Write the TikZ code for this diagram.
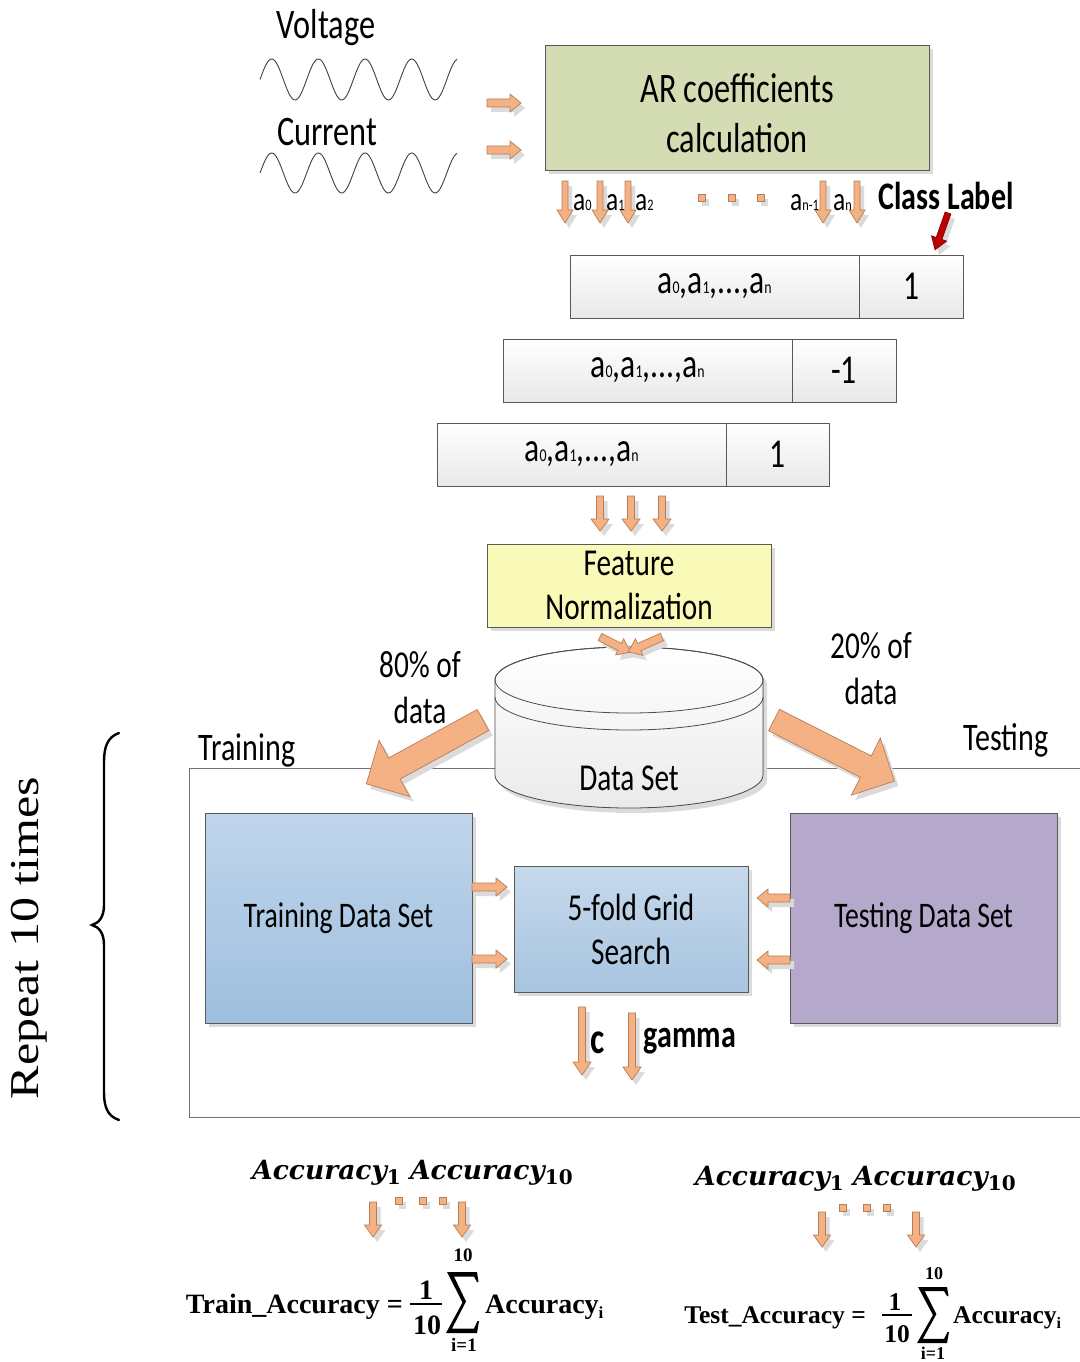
\documentclass[tikz,border=0pt]{standalone}
\usepackage{fontspec}
\setmainfont{Carlito}[FakeStretch=0.77]
\newfontfamily\serifbf{Liberation Serif}
\newfontfamily\repfont[FakeStretch=1.22]{Liberation Serif}
\newfontfamily\accfont{DejaVu Serif}
\usetikzlibrary{shadows}
\definecolor{arrfillc}{HTML}{F4B183}
\definecolor{arrdrawc}{RGB}{185,125,85}
\definecolor{arfill}{HTML}{D3DCB2}
\definecolor{fnfill}{HTML}{FAFAB8}
\definecolor{trtop}{HTML}{C0D5EB}
\definecolor{trbot}{HTML}{9EBFDF}
\definecolor{grtop}{HTML}{C6D9EC}
\definecolor{grbot}{HTML}{A7C4E0}
\definecolor{tsfill}{HTML}{B4A8CB}
\definecolor{boxline}{HTML}{595959}
\definecolor{redarr}{HTML}{C00000}
\definecolor{redline}{HTML}{7F0000}
\newcommand\sbs[1]{{\fontsize{16}{16}\selectfont #1}}
\newcommand\csbs[1]{{\fontsize{18}{18}\selectfont #1}}
\newcommand\barrow[8][arrstyle]{%
  \begin{scope}[shift={(#2+4,#3+5)},rotate=#4]
    \fill[black!14] (0,-#6) -- ({#5-#8},-#6) -- ({#5-#8},-#7) -- (#5,0) -- ({#5-#8},#7) -- ({#5-#8},#6) -- (0,#6) -- cycle;
  \end{scope}
  \begin{scope}[shift={(#2,#3)},rotate=#4]
    \filldraw[#1] (0,-#6) -- ({#5-#8},-#6) -- ({#5-#8},-#7) -- (#5,0) -- ({#5-#8},#7) -- ({#5-#8},#6) -- (0,#6) -- cycle;
  \end{scope}}
\newcommand\sqdot[2]{%
  \fill[black!14] (#1-3.5+3,#2-3.5+4) rectangle +(7,7);
  \filldraw[arrstyle] (#1-3.5,#2-3.5) rectangle +(7,7);}
\newcommand\sigmashape[4]{%
  \begin{scope}[shift={(#1,#2)},xscale=#3/31,yscale=#4/61]
    \fill (0,0) -- (30,0) -- (31.5,10) -- (30,10) -- (27,4.5) -- (7,4.5) -- (19,29.5) -- (5,56.5) -- (27,56.5) -- (30.5,49) -- (32,49) -- (30,61) -- (-1,61) -- (15.5,30.5) -- cycle;
  \end{scope}}
\begin{document}
\begin{tikzpicture}[x=1pt,y=-1pt,
  arrstyle/.style={fill=arrfillc,draw=arrdrawc,line width=0.7pt},
  redstyle/.style={fill=redarr,draw=redline,line width=0.7pt},
  wave/.style={draw=black!75,line width=0.9pt},
  shad/.style={drop shadow={shadow xshift=4pt,shadow yshift=-4pt,fill=black!14,opacity=1}},
  box/.style={draw=boxline,line width=0.9pt,inner sep=0pt},
  cell/.style={draw=boxline,line width=0.8pt,top color=white,bottom color=black!9,minimum height=63pt,inner sep=0pt},
  txt/.style={font=\fontsize{38}{44}\selectfont,inner sep=0pt,align=center},
  celltxt/.style={font=\fontsize{41}{44}\selectfont,inner sep=0pt},
  big/.style={font=\fontsize{42}{50}\selectfont,inner sep=0pt,align=center},
  lbl/.style={font=\fontsize{33}{34}\selectfont,inner sep=0pt,anchor=base west},
  bold/.style={font=\fontsize{39}{44}\selectfont\bfseries,inner sep=0pt},
  frm/.style={font=\serifbf\bfseries\fontsize{28}{30}\selectfont,inner sep=0pt},
  frmr/.style={font=\serifbf\bfseries\fontsize{25.5}{30}\selectfont,inner sep=0pt},
  lim/.style={font=\serifbf\bfseries\fontsize{19}{20}\selectfont,inner sep=0pt},
  limr/.style={font=\serifbf\bfseries\fontsize{18}{20}\selectfont,inner sep=0pt},
  acc/.style={font=\accfont\bfseries\itshape\fontsize{26.5}{30}\selectfont,inner sep=0pt,anchor=base west}]
\useasboundingbox (0,0) rectangle (1079,1362);

% --- signals
\node[big] (volt) at (326,28) {Voltage};
\node[big] (curr) at (327,132) {Current};
\draw[wave] plot[domain=260:457,samples=160,smooth] (\x,{79.5-20.5*sin(7.7088*(\x-260))});
\draw[wave] plot[domain=260:457,samples=160,smooth] (\x,{173-20*sin(7.7088*(\x-260))});
\barrow{487}{103}{0}{34}{4}{9}{11}
\barrow{487}{150}{0}{34}{4}{9}{11}

% --- AR box
\node[box,shad,fill=arfill,minimum width=384pt,minimum height=125pt] (ar) at (737,107.5) {};
\node[big] (artext) at (737,113) {AR coefficients\\calculation};

% --- coefficient arrows
\foreach \xx in {565,600,628,823,857}{\barrow{\xx}{181}{-90}{42}{3}{8}{13}}
\node[lbl] (a0) at (573,210) {a\sbs{0}};
\node[lbl] (a1) at (606,210) {a\sbs{1}};
\node[lbl] (a2) at (635,210) {a\sbs{2}};
\node[lbl] (an1) at (790,210) {a\sbs{n-1}};
\node[lbl] (an) at (833,210) {a\sbs{n}};
\sqdot{702}{198}\sqdot{732}{198}\sqdot{761}{198}
\node[bold] (cl) at (946,196) {Class Label};
\barrow[redstyle]{948}{213}{-109.4}{39}{3}{8}{12}

% --- feature rows
\node[cell,minimum width=289pt] (r1l) at (714.5,286.5) {};
\node[cell,minimum width=104pt] (r1r) at (911,286.5) {};
\node[cell,minimum width=289pt] (r2l) at (647.5,370.5) {};
\node[cell,minimum width=104pt] (r2r) at (844,370.5) {};
\node[cell,minimum width=289pt] (r3l) at (581.5,454.5) {};
\node[cell,minimum width=103pt] (r3r) at (777.5,454.5) {};
\node[celltxt] at (r1l) {a\csbs{0},a\csbs{1},...,a\csbs{n}};
\node[celltxt] at (r1r) {1};
\node[celltxt] at (r2l) {a\csbs{0},a\csbs{1},...,a\csbs{n}};
\node[celltxt] at (r2r) {-1};
\node[celltxt] at (r3l) {a\csbs{0},a\csbs{1},...,a\csbs{n}};
\node[celltxt] at (r3r) {1};

\foreach \xx in {600,631,662}{\barrow{\xx}{496}{-90}{35}{3.5}{9}{12}}

% --- feature normalization
\node[box,shad,fill=fnfill,minimum width=284pt,minimum height=83pt,txt] (fn) at (629,585.5) {Feature\\Normalization};

% --- outer rectangle
\draw[black!55,line width=0.9pt] (1090,768) -- (189,768) -- (189,1117) -- (1090,1117);

% --- cylinder
\fill[black!14] (499,685) -- (499,780) -- plot[domain=180:360,samples=60] ({633+134*cos(\x)},{780-33*sin(\x)}) -- (767,685) -- plot[domain=0:180,samples=60] ({633+134*cos(\x)},{685-33*sin(\x)}) -- cycle;
\filldraw[draw=black!70,line width=0.8pt,top color=white,bottom color=black!8] (495,680) -- (495,775) -- plot[domain=180:360,samples=60] ({629+134*cos(\x)},{775-33*sin(\x)}) -- (763,680) -- plot[domain=0:180,samples=60] ({629+134*cos(\x)},{680-33*sin(\x)}) -- cycle;
\draw[black!70,line width=0.8pt] (629,680) ellipse [x radius=134,y radius=33];
\draw[black!70,line width=0.8pt] plot[domain=180:360,samples=60] ({629+134*cos(\x)},{697-33*sin(\x)});
\node[txt] (ds) at (629,778) {Data Set};

\barrow{600}{637}{-26.6}{34}{4}{9}{12}
\barrow{662}{637}{-156.2}{37}{4}{9}{12}

% --- split arrows and labels
\barrow{483}{720}{-151.3}{133}{12}{32}{32}
\barrow{774}{720}{-26.9}{135}{12}{32}{32}
\node[txt,font=\fontsize{38}{46}\selectfont] (p80) at (420,688) {80\% of\\data};
\node[txt,font=\fontsize{38}{46}\selectfont] (p20) at (871,668.5) {20\% of\\data};
\node[txt,font=\fontsize{39}{44}\selectfont] (trl) at (247,750) {Training};
\node[txt,font=\fontsize{39}{44}\selectfont] (tsl) at (1006,740) {Testing};

% --- inner boxes
\node[box,shad,top color=trtop,bottom color=trbot,minimum width=267pt,minimum height=210pt,txt,font=\fontsize{36}{40}\selectfont] (tr) at (338.5,918) {Training Data Set};
\node[box,shad,top color=grtop,bottom color=grbot,minimum width=234pt,minimum height=126pt,txt] (gr) at (631,929) {5-fold Grid\\Search};
\node[box,shad,fill=tsfill,minimum width=267pt,minimum height=210pt,txt,font=\fontsize{36}{40}\selectfont] (ts) at (923.5,918) {Testing Data Set};
\barrow{472}{887}{0}{35}{4}{9}{11}
\barrow{472}{959}{0}{35}{4}{9}{11}
\barrow{790}{898}{180}{33}{4}{9}{11}
\barrow{790}{960}{180}{33}{4}{9}{11}
\barrow{582}{1007}{-90}{68}{3.5}{9}{13}
\barrow{632}{1013}{-90}{67}{3.5}{9}{13}
\node[bold,font=\fontsize{44}{46}\selectfont\bfseries] (cc) at (598,1043) {c};
\node[bold] (gm) at (690,1041) {gamma};

% --- repeat brace
\draw[line width=2.4pt,line cap=round] (119,733) .. controls (107,737) and (104,748) .. (104,762) -- (104,905) .. controls (104,917) and (99,923) .. (92,925) .. controls (99,927) and (104,933) .. (104,945) -- (104,1092) .. controls (104,1106) and (107,1116) .. (119,1120);
\node[rotate=90,font=\repfont\fontsize{41}{50}\selectfont,inner sep=0pt] (rep) at (29,938) {Repeat 10 times};

% --- bottom left formula
\node[acc] (accL) at (252,1179) {Accuracy{\upshape\fontsize{20}{20}\selectfont\raisebox{-5pt}{1}} Accuracy{\upshape\fontsize{20}{20}\selectfont\raisebox{-5pt}{10}}};
\barrow{373}{1202}{-90}{35}{3.5}{8.5}{12}
\barrow{462}{1202}{-90}{35}{3.5}{8.5}{12}
\sqdot{399}{1201}\sqdot{423}{1201}\sqdot{443}{1201}
\node[frm,anchor=base east] (trf) at (403,1313) {Train\_Accuracy =};
\node[frm,anchor=base] (n1L) at (426,1299) {1};
\draw[line width=1.6pt] (410,1304) -- (442,1304);
\node[frm,anchor=base] (d1L) at (427,1334) {10};
\sigmashape{447}{1272}{31}{61}
\node[lim] (upL) at (463,1255) {10};
\node[lim] (loL) at (464,1345) {i=1};
\node[frm,anchor=base west] (aiL) at (485,1313) {Accuracy{\fontsize{17}{17}\selectfont\raisebox{-5pt}{i}}};

% --- bottom right formula
\node[acc] (accR) at (695,1185) {Accuracy{\upshape\fontsize{20}{20}\selectfont\raisebox{-5pt}{1}} Accuracy{\upshape\fontsize{20}{20}\selectfont\raisebox{-5pt}{10}}};
\barrow{822}{1212}{-90}{35}{3.5}{8.5}{12}
\barrow{916}{1212}{-90}{35}{3.5}{8.5}{12}
\sqdot{843}{1208}\sqdot{867}{1208}\sqdot{887}{1208}
\node[frmr,anchor=base east] (tsf) at (866,1323) {Test\_Accuracy =};
\node[frmr,anchor=base] (n1R) at (895,1310) {1};
\draw[line width=1.5pt] (882,1315) -- (912,1315);
\node[frmr,anchor=base] (d1R) at (897,1342) {10};
\sigmashape{918}{1287}{30}{56}
\node[limr] (upR) at (934,1274) {10};
\node[limr] (loR) at (933,1353) {i=1};
\node[frmr,anchor=base west] (aiR) at (953,1323) {Accuracy{\fontsize{16}{16}\selectfont\raisebox{-5pt}{i}}};
\end{tikzpicture}
\end{document}
